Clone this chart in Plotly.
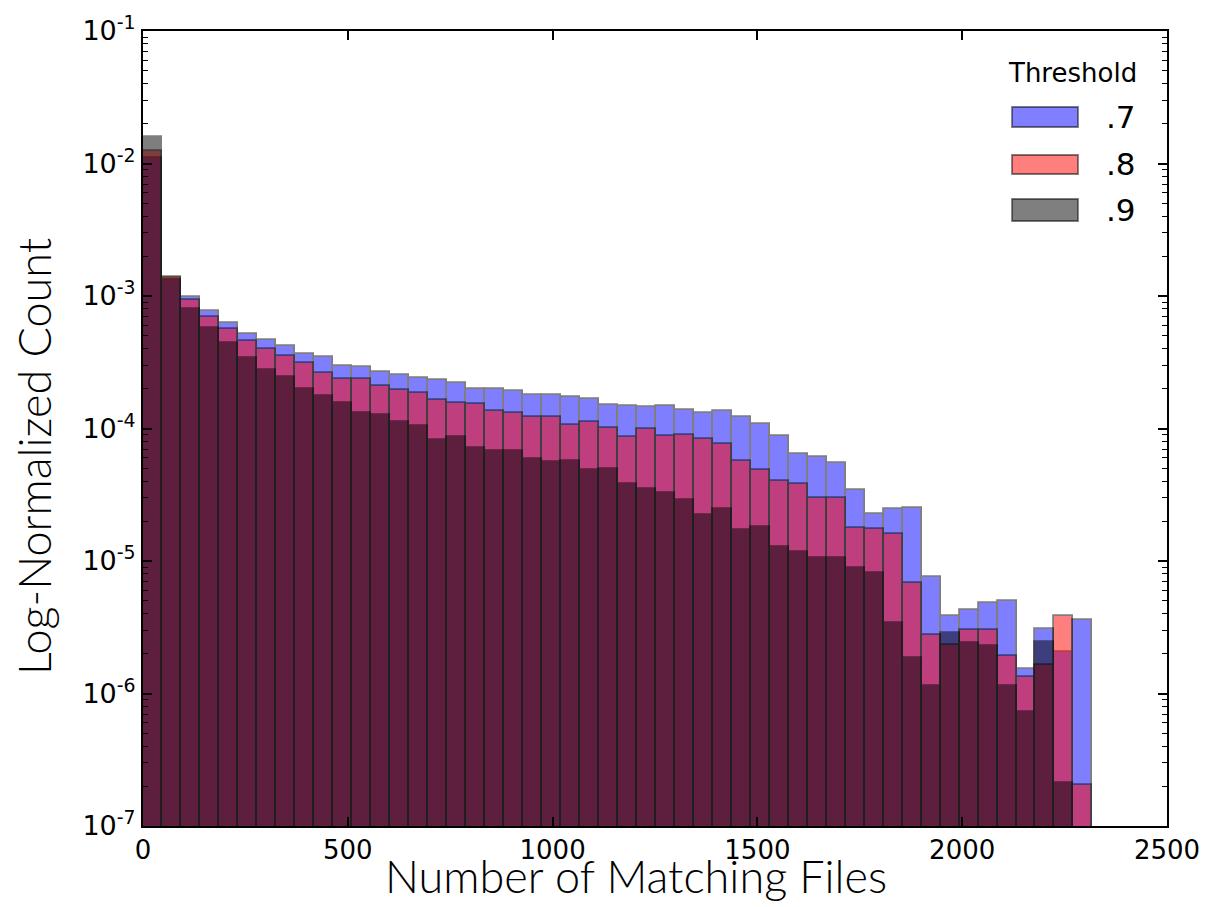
import numpy as np
import plotly.graph_objects as go

# ---- data ----
bin_min = 0
bin_max = 2318
n_bins = 50

thresh_07 = [1.094e-2, 1.33e-3, 9.82e-4, 7.70e-4, 6.25e-4, 5.19e-4, 4.64e-4, 4.17e-4, 3.63e-4, 3.45e-4,
             2.98e-4, 2.90e-4, 2.69e-4, 2.54e-4, 2.39e-4, 2.32e-4, 2.19e-4, 1.98e-4, 1.98e-4, 1.92e-4,
             1.79e-4, 1.79e-4, 1.72e-4, 1.66e-4, 1.51e-4, 1.48e-4, 1.46e-4, 1.48e-4, 1.39e-4, 1.32e-4,
             1.36e-4, 1.23e-4, 1.08e-4, 8.83e-5, 6.43e-5, 6.12e-5, 5.46e-5, 3.44e-5, 2.26e-5, 2.48e-5,
             2.50e-5, 7.61e-6, 3.85e-6, 4.27e-6, 4.80e-6, 4.99e-6, 1.52e-6, 3.05e-6, 2.05e-6, 3.59e-6]

thresh_08 = [1.250e-2, 1.40e-3, 9.41e-4, 7.00e-4, 5.61e-4, 4.57e-4, 3.98e-4, 3.52e-4, 3.10e-4, 2.64e-4,
             2.38e-4, 2.38e-4, 2.10e-4, 1.95e-4, 1.86e-4, 1.64e-4, 1.57e-4, 1.52e-4, 1.36e-4, 1.30e-4,
             1.22e-4, 1.22e-4, 1.06e-4, 1.11e-4, 1.01e-4, 8.67e-5, 9.86e-5, 8.77e-5, 8.93e-5, 8.28e-5,
             7.60e-5, 5.69e-5, 4.86e-5, 4.02e-5, 3.81e-5, 2.97e-5, 3.01e-5, 1.77e-5, 1.75e-5, 1.61e-5,
             6.86e-6, 2.75e-6, 2.32e-6, 3.02e-6, 3.02e-6, 1.93e-6, 1.33e-6, 1.64e-6, 3.85e-6, 2.04e-7]

thresh_09 = [1.578e-2, 1.37e-3, 7.98e-4, 5.73e-4, 4.44e-4, 3.39e-4, 2.77e-4, 2.46e-4, 1.99e-4, 1.76e-4,
             1.57e-4, 1.32e-4, 1.26e-4, 1.11e-4, 1.05e-4, 8.19e-5, 8.67e-5, 7.16e-5, 6.79e-5, 6.79e-5,
             5.86e-5, 5.56e-5, 5.72e-5, 4.86e-5, 4.92e-5, 3.81e-5, 3.49e-5, 3.27e-5, 2.88e-5, 2.21e-5,
             2.47e-5, 1.71e-5, 1.80e-5, 1.28e-5, 1.16e-5, 1.06e-5, 1.05e-5, 8.81e-6, 8.17e-6, 3.42e-6,
             1.86e-6, 1.14e-6, 2.88e-6, 2.39e-6, 2.28e-6, 1.14e-6, 7.29e-7, 2.46e-6, 2.10e-7, None]

series_names = [".7", ".8", ".9"]
series_colors = ["blue", "red", "black"]

x_ticks = [0, 500, 1000, 1500, 2000, 2500]
y_exponents = [-7, -6, -5, -4, -3, -2, -1]

# ---- figure ----
edges = np.linspace(bin_min, bin_max, n_bins + 1)
centers = (edges[:-1] + edges[1:]) / 2
width = edges[1] - edges[0]

fig = go.Figure()
for name, color, vals in zip(series_names, series_colors, [thresh_07, thresh_08, thresh_09]):
    fig.add_trace(go.Bar(
        x=centers, y=vals, width=width, name=name,
        marker=dict(color=color, line=dict(color="black", width=1.8)),
        opacity=0.5, showlegend=False,
    ))

minor_vals = [m * 10.0 ** e for e in range(-7, -1) for m in range(2, 10)]

tick_font = dict(family="DejaVu Sans, sans-serif", size=26, color="black")
title_font = dict(family="Lato, Roboto, sans-serif", size=45, color="black", weight=300)

fig.update_layout(
    width=1206, height=907,
    margin=dict(l=143, r=39, t=31, b=81),
    paper_bgcolor="white", plot_bgcolor="white",
    barmode="overlay", bargap=0,
    xaxis=dict(
        range=[0, 2500], tickvals=x_ticks, ticktext=[str(v) for v in x_ticks],
        ticks="inside", ticklen=9, tickwidth=1.5, tickcolor="black",
        showline=True, linecolor="black", linewidth=2, mirror="allticks",
        showgrid=False, zeroline=False, tickfont=tick_font, automargin=False,
    ),
    yaxis=dict(
        type="log", range=[-7, -1],
        tickvals=[10.0 ** e for e in y_exponents],
        ticktext=["10<sup>%d</sup>" % e for e in y_exponents],
        ticks="inside", ticklen=9, tickwidth=1.5, tickcolor="black",
        minor=dict(tickvals=minor_vals, ticks="inside", ticklen=5, tickwidth=1, tickcolor="black", showgrid=False),
        showline=True, linecolor="black", linewidth=2, mirror="allticks",
        showgrid=False, zeroline=False, tickfont=dict(tick_font, size=27), automargin=False,
    ),
)

# axis titles (placed as in the reference)
fig.add_annotation(xref="paper", yref="paper", x=(636 - 143) / 1024, y=-(905 - 826) / 795,
                   text="Number of Matching Files", showarrow=False,
                   xanchor="center", yanchor="bottom", font=title_font)
fig.add_annotation(xref="paper", yref="paper", x=-(143 - 34) / 1024, y=1 - (457 - 31) / 795,
                   text="Log-Normalized Count", showarrow=False, textangle=-90,
                   xanchor="center", yanchor="middle", font=title_font)

# ---- legend (drawn manually to match the reference's patches) ----
leg_x0, leg_x1 = (1012 - 143) / 1024, (1078 - 143) / 1024
leg_rows = [(107, 127), (155, 174), (199, 221)]
fill = ["rgba(0,0,255,0.5)", "rgba(255,0,0,0.5)", "rgba(0,0,0,0.5)"]
for (ya, yb), fc, name in zip(leg_rows, fill, series_names):
    y0 = 1 - (yb - 31) / 795
    y1 = 1 - (ya - 31) / 795
    fig.add_shape(type="rect", xref="paper", yref="paper", x0=leg_x0, x1=leg_x1, y0=y0, y1=y1,
                  fillcolor=fc, line=dict(color="rgba(0,0,0,0.5)", width=1.8))
    fig.add_annotation(xref="paper", yref="paper", x=(1104 - 143) / 1024, y=(y0 + y1) / 2,
                       text=name, showarrow=False, xanchor="left", yanchor="middle",
                       font=dict(family="DejaVu Sans, sans-serif", size=31, color="black"))
fig.add_annotation(xref="paper", yref="paper", x=(1072 - 143) / 1024, y=1 - (73 - 31) / 795,
                   text="Threshold", showarrow=False, xanchor="center", yanchor="middle",
                   font=dict(family="DejaVu Sans, sans-serif", size=26, color="black"))

fig.write_html("out.html")
